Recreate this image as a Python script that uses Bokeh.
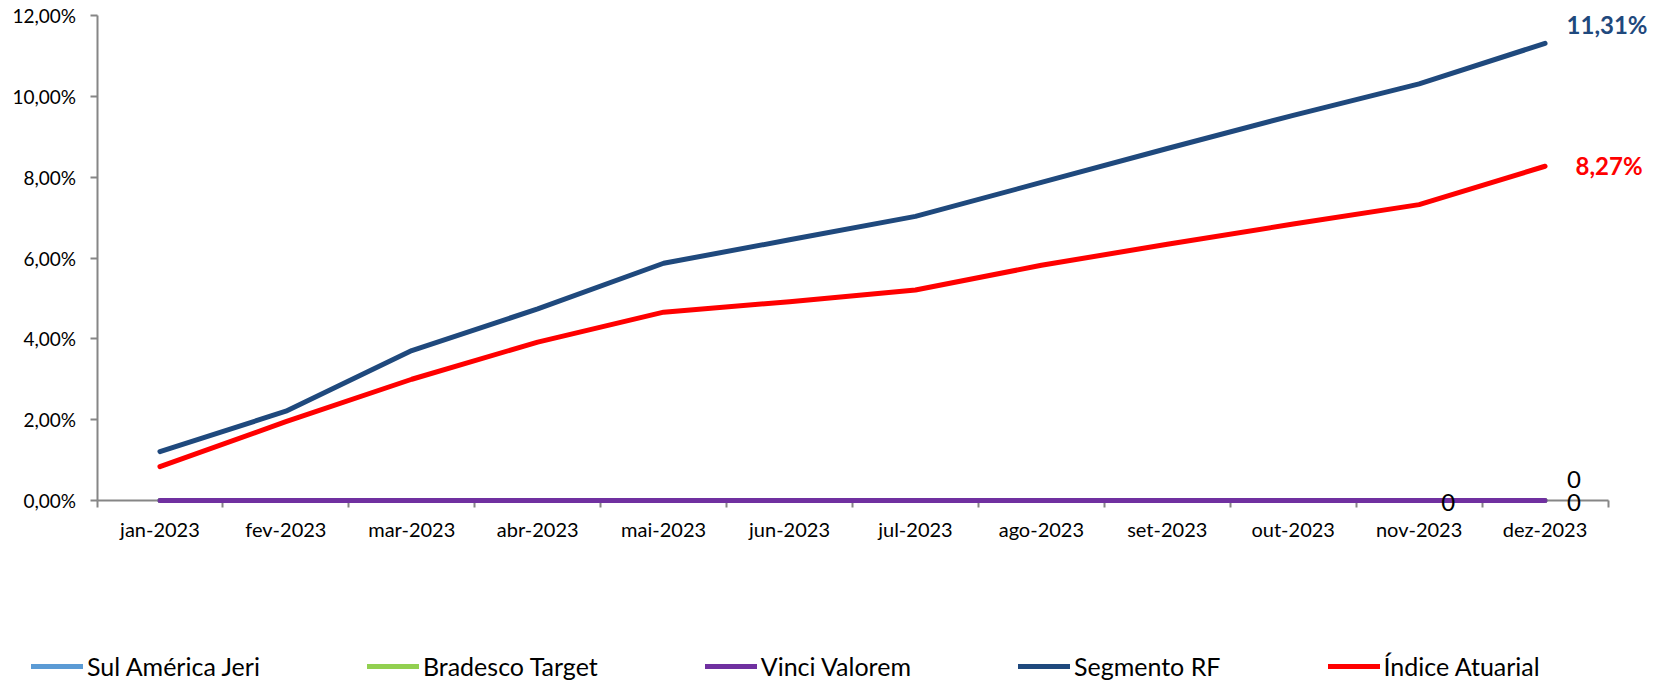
from bokeh.plotting import figure
from bokeh.models import Range1d, FixedTicker, Legend, LegendItem, Label
from bokeh.embed import file_html
from bokeh.resources import INLINE
import numpy as np

# ---------------- data ----------------
months = ["jan-2023", "fev-2023", "mar-2023", "abr-2023", "mai-2023", "jun-2023",
          "jul-2023", "ago-2023", "set-2023", "out-2023", "nov-2023", "dez-2023"]
sul_america_jeri = [0.0, 0.0, 0.0, 0.0, 0.0, 0.0, 0.0, 0.0, 0.0, 0.0, 0.0, 0.0]
bradesco_target = [0.0, 0.0, 0.0, 0.0, 0.0, 0.0, 0.0, 0.0, 0.0, 0.0, 0.0, 0.0]
vinci_valorem = [0.0, 0.0, 0.0, 0.0, 0.0, 0.0, 0.0, 0.0, 0.0, 0.0, 0.0, 0.0]
segmento_rf = [1.21, 2.21, 3.71, 4.74, 5.87, 6.45, 7.03, 7.87, 8.71, 9.53, 10.31, 11.31]
indice_atuarial = [0.84, 1.95, 3.00, 3.92, 4.66, 4.92, 5.21, 5.82, 6.34, 6.84, 7.32, 8.27]
series_names = ["Sul América Jeri", "Bradesco Target", "Vinci Valorem", "Segmento RF", "Índice Atuarial"]
series_colors = ["#5B9BD5", "#92D050", "#7030A0", "#1F497D", "#FF0000"]
y_ticks = [0, 2, 4, 6, 8, 10, 12]
y_tick_labels = ["0,00%", "2,00%", "4,00%", "6,00%", "8,00%", "10,00%", "12,00%"]
end_label_segmento = "11,31%"
end_label_indice = "8,27%"
zero_label = "0"

FONT = "Lato"
AXIS_GRAY = "#868686"

n = len(months)
y_max = y_ticks[-1]
centers = list(np.arange(n) + 0.5)
bounds = list(np.arange(n + 1).astype(float))

# layout: frame = whole figure, axes pinned at data 0
W, H = 1666, 681
ax_left_px, ax_right_px = 96.5, 1607.5     # x=0 and x=n in pixels
ax_top_px, ax_zero_px = 15.0, 500.0        # y=max and y=0 in pixels
sx = (ax_right_px - ax_left_px) / n
sy = (ax_zero_px - ax_top_px) / y_max
x_range = Range1d(-ax_left_px / sx, n + (W - ax_right_px) / sx)
y_range = Range1d(-(H - ax_zero_px) / sy, y_max + ax_top_px / sy)

p = figure(width=W, height=H, x_range=x_range, y_range=y_range,
           output_backend="svg", toolbar_location=None, min_border=0)
p.outline_line_color = None
p.xgrid.visible = False
p.ygrid.visible = False
p.background_fill_color = "white"
p.border_fill_color = "white"

xa = p.xaxis[0]
xa.fixed_location = 0
xa.bounds = (0, n)
xa.ticker = FixedTicker(ticks=centers, minor_ticks=bounds)
xa.major_label_overrides = {c: m for c, m in zip(centers, months)}
xa.major_tick_line_color = None
xa.major_tick_out = 0
xa.major_tick_in = 0
xa.minor_tick_line_color = AXIS_GRAY
xa.minor_tick_line_width = 2
xa.minor_tick_out = 7
xa.minor_tick_in = 0
xa.axis_line_color = AXIS_GRAY
xa.axis_line_width = 2
xa.major_label_standoff = 9
xa.major_label_text_font = FONT
xa.major_label_text_font_size = "20px"
xa.major_label_text_color = "#000000"

ya = p.yaxis[0]
ya.fixed_location = 0
ya.bounds = (0, y_max)
ya.ticker = FixedTicker(ticks=y_ticks, minor_ticks=[])
ya.major_label_overrides = {t: l for t, l in zip(y_ticks, y_tick_labels)}
ya.major_tick_line_color = AXIS_GRAY
ya.major_tick_line_width = 2
ya.major_tick_out = 7
ya.major_tick_in = 0
ya.minor_tick_line_color = None
ya.axis_line_color = AXIS_GRAY
ya.axis_line_width = 2
ya.major_label_standoff = 14
ya.major_label_text_font = FONT
ya.major_label_text_font_size = "19px"
ya.major_label_text_color = "#000000"

all_series = [sul_america_jeri, bradesco_target, vinci_valorem, segmento_rf, indice_atuarial]
renderers = []
for name, vals, col in zip(series_names, all_series, series_colors):
    r = p.line(x=centers, y=vals, line_width=5, line_color=col, line_cap="round",
               line_join="round", level="annotation")
    renderers.append(r)

legend = Legend(items=[LegendItem(label=nm, renderers=[r]) for nm, r in zip(series_names, renderers)],
                orientation="horizontal", location=(31, 0),
                glyph_width=52, glyph_height=20, label_standoff=4, spacing=107,
                padding=0, margin=0, border_line_color=None, background_fill_alpha=0,
                label_text_font=FONT, label_text_font_size="25px", label_text_color="#000000")
p.add_layout(legend)

p.add_layout(Label(x=centers[-1], y=segmento_rf[-1], text=end_label_segmento, x_offset=62, y_offset=19,
                   text_align="center", text_baseline="middle", text_font=FONT, text_font_size="24px",
                   text_font_style="bold", text_color="#1F497D"))
p.add_layout(Label(x=centers[-1], y=indice_atuarial[-1], text=end_label_indice, x_offset=64, y_offset=1,
                   text_align="center", text_baseline="middle", text_font=FONT, text_font_size="24px",
                   text_font_style="bold", text_color="#FF0000"))
for xi, yo in [(centers[-2], -2), (centers[-1], -2), (centers[-1], 21)]:
    p.add_layout(Label(x=xi, y=0, text=zero_label, x_offset=29, y_offset=yo,
                       text_align="center", text_baseline="middle", text_font=FONT,
                       text_font_size="24px", text_color="#000000"))

open("out.html", "w").write(file_html(p, INLINE))
